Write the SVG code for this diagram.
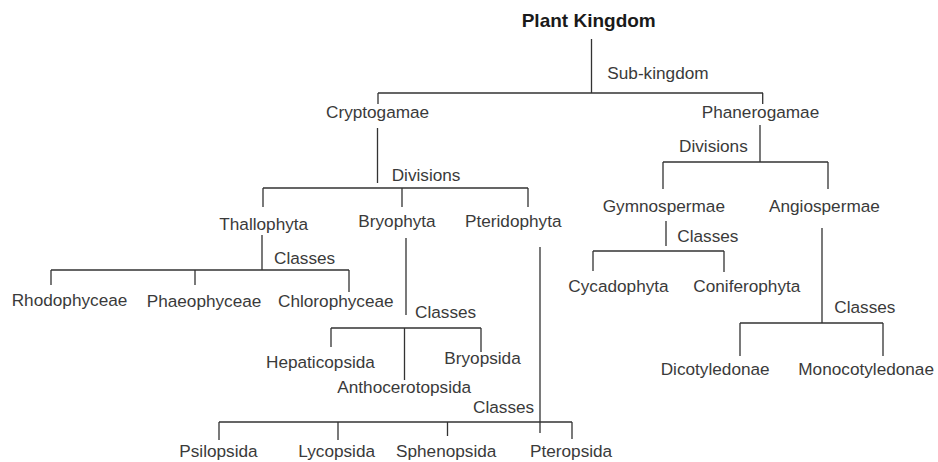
<svg xmlns="http://www.w3.org/2000/svg" width="938" height="462" viewBox="0 0 938 462">
<style>
  text { font-family: "Liberation Sans", Arial, Helvetica, sans-serif; font-size: 17.2px; fill: #3a3a3a; }
  .title { font-size: 19px; font-weight: bold; fill: #1a1a1a; }
  .conn path { fill: none; stroke: #333; stroke-width: 1.3; }
</style>
<rect width="938" height="462" fill="#fff"/>
<g class="conn" id="connectors">
  <path d="M591.5,39 V93 M378,93 H763 M378,93 V104 M762.7,93 V104"/>
  <path d="M377.5,128 V183 M263,188 H528 M263,188 V207 M402,188 V207 M528,188 V207"/>
  <path d="M760,125 V162 M663,162 H828 M663,162 V189 M828,162 V189"/>
  <path d="M262,235 V270 M51,270 H349 M51,270 V285 M195,270 V285 M349,270 V292"/>
  <path d="M406,238 V315 M331,328 H481 M331,328 V347 M404.5,328 V380 M481,328 V352"/>
  <path d="M540,247 V433 M219,422 H572 M219,422 V440 M338,422 V440 M447.5,422 V436 M572,422 V439"/>
  <path d="M666,221 V246 M593,251 H724 M593,251 V271 M724,251 V272"/>
  <path d="M822,228 V323 M740,323 H883 M740,323 V356 M883,323 V356"/>
</g>
<g class="labels" id="edge-labels">
  <text x="607.3" y="79">Sub-kingdom</text>
  <text x="391.7" y="181">Divisions</text>
  <text x="679" y="151.7">Divisions</text>
  <text x="274" y="264">Classes</text>
  <text x="677.3" y="241.7">Classes</text>
  <text x="415" y="318.3">Classes</text>
  <text x="834.3" y="313.3">Classes</text>
  <text x="473" y="413.3">Classes</text>
</g>
<g id="plant-kingdom"><text class="title" x="521.7" y="27.3">Plant Kingdom</text></g>
<g id="cryptogamae"><text x="326" y="118">Cryptogamae</text></g>
<g id="phanerogamae"><text x="701.7" y="118.3">Phanerogamae</text></g>
<g id="thallophyta"><text x="219.3" y="229.5">Thallophyta</text></g>
<g id="bryophyta"><text x="358.3" y="227">Bryophyta</text></g>
<g id="pteridophyta"><text x="465" y="227">Pteridophyta</text></g>
<g id="gymnospermae"><text x="602.7" y="211.7">Gymnospermae</text></g>
<g id="angiospermae"><text x="769" y="211.7">Angiospermae</text></g>
<g id="rhodophyceae"><text x="11.7" y="305.7">Rhodophyceae</text></g>
<g id="phaeophyceae"><text x="146.7" y="306.7">Phaeophyceae</text></g>
<g id="chlorophyceae"><text x="278" y="307">Chlorophyceae</text></g>
<g id="cycadophyta"><text x="568.3" y="291.5">Cycadophyta</text></g>
<g id="coniferophyta"><text x="693.3" y="291.5">Coniferophyta</text></g>
<g id="hepaticopsida"><text x="266" y="368.3">Hepaticopsida</text></g>
<g id="bryopsida"><text x="444.3" y="364">Bryopsida</text></g>
<g id="anthocerotopsida"><text x="337.3" y="393.3">Anthocerotopsida</text></g>
<g id="dicotyledonae"><text x="660.7" y="375">Dicotyledonae</text></g>
<g id="monocotyledonae"><text x="798.3" y="375">Monocotyledonae</text></g>
<g id="psilopsida"><text x="179.3" y="456.7">Psilopsida</text></g>
<g id="lycopsida"><text x="298.3" y="456.7">Lycopsida</text></g>
<g id="sphenopsida"><text x="396" y="456.7">Sphenopsida</text></g>
<g id="pteropsida"><text x="530" y="457">Pteropsida</text></g>
</svg>
